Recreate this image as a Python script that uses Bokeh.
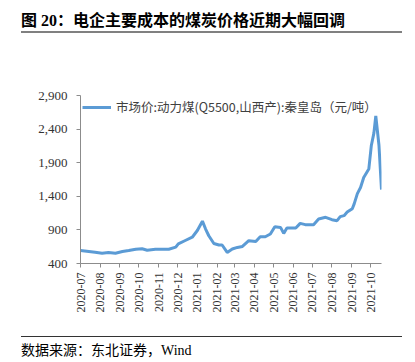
import pandas as pd
from bokeh.plotting import figure
from bokeh.layouts import column
from bokeh.models import (Range1d, MonthsTicker, DatetimeTickFormatter, NumeralTickFormatter,
                          FixedTicker, Legend, LegendItem, Div)
from bokeh.embed import file_html
from bokeh.resources import INLINE

title_text = "图 20：电企主要成本的煤炭价格近期大幅回调"
source_text = "数据来源：东北证券，Wind"
series_name = "市场价:动力煤(Q5500,山西产):秦皇岛（元/吨）"

dates = [
    "2020-07-01", "2020-07-24", "2020-08-04", "2020-08-14", "2020-08-25", "2020-09-05",
    "2020-09-15", "2020-09-26", "2020-10-06", "2020-10-14", "2020-10-27", "2020-11-17",
    "2020-11-28", "2020-12-02", "2020-12-13", "2020-12-24", "2021-01-01", "2021-01-09",
    "2021-01-14", "2021-01-19", "2021-01-27", "2021-02-04", "2021-02-09", "2021-02-17",
    "2021-02-25", "2021-03-05", "2021-03-13", "2021-03-23", "2021-04-03", "2021-04-10",
    "2021-04-18", "2021-04-26", "2021-05-03", "2021-05-12", "2021-05-17", "2021-05-22",
    "2021-06-05", "2021-06-12", "2021-06-20", "2021-07-03", "2021-07-11", "2021-07-22",
    "2021-08-01", "2021-08-09", "2021-08-14", "2021-08-20", "2021-08-25", "2021-09-02",
    "2021-09-05", "2021-09-10", "2021-09-15", "2021-09-20", "2021-09-28", "2021-10-02",
    "2021-10-06", "2021-10-09", "2021-10-14", "2021-10-18",
]
prices = [
    593, 568, 553, 563, 553, 578,
    593, 613, 619, 598, 613, 613,
    643, 693, 742, 791, 891, 1030,
    913, 813, 698, 675, 675, 565,
    615, 639, 654, 739, 728, 798,
    798, 839, 948, 937, 848, 928,
    928, 997, 978, 978, 1063, 1087,
    1052, 1037, 1097, 1112, 1165, 1215,
    1287, 1440, 1530, 1680, 1805, 2157,
    2340, 2597, 2160, 1500,
]
y_ticks = [400, 900, 1400, 1900, 2400, 2900]

x = pd.to_datetime(dates)

p = figure(width=415, height=300, x_axis_type="datetime",
           x_range=Range1d(x[0], x[-1]), y_range=Range1d(y_ticks[0], y_ticks[-1]),
           output_backend="svg", toolbar_location=None,
           min_border_left=80, min_border_right=34, min_border_top=59, min_border_bottom=73)
p.outline_line_color = None
p.xgrid.visible = False
p.ygrid.visible = False
p.background_fill_color = "white"
p.border_fill_color = "white"

r = p.line(x, prices, line_color="#5B9BD5", line_width=3)

axis_color = "#8c8c8c"
serif = "Liberation Serif"
cjk = "Noto Sans CJK SC"

xa = p.xaxis[0]
xa.ticker = MonthsTicker(months=list(range(12)))
xa.formatter = DatetimeTickFormatter(months="%Y-%m", days="%Y-%m", years="%Y-%m")
xa.major_label_orientation = 1.5707963
xa.major_label_text_font = serif
xa.major_label_text_font_size = "12px"
xa.major_label_text_color = "#333333"
xa.major_label_standoff = 5
xa.axis_line_color = axis_color
xa.major_tick_line_color = axis_color
xa.major_tick_in = 0
xa.major_tick_out = 4
xa.minor_tick_line_color = None

ya = p.yaxis[0]
ya.ticker = FixedTicker(ticks=y_ticks)
ya.formatter = NumeralTickFormatter(format="0,0")
ya.major_label_text_font = serif
ya.major_label_text_font_size = "13px"
ya.major_label_text_color = "#333333"
ya.major_label_standoff = 9
ya.axis_line_color = axis_color
ya.major_tick_line_color = axis_color
ya.major_tick_in = 0
ya.major_tick_out = 4
ya.minor_tick_line_color = None

legend = Legend(items=[LegendItem(label=series_name, renderers=[r])],
                location="top_left", padding=0, margin=2, border_line_color=None,
                background_fill_alpha=0, glyph_width=29, glyph_height=12, label_standoff=5,
                label_height=14, label_text_font=cjk, label_text_font_size="12.5px",
                label_text_color="#404040")
p.add_layout(legend)

title_div = Div(
    text=("<div style=\"width:381px;margin-left:21px;height:33px;box-sizing:border-box;"
          "border-bottom:2px solid #808080;padding-top:12px;line-height:18px;"
          "font-family:'Liberation Serif','Noto Sans CJK SC';font-weight:bold;"
          "font-size:16px;color:#000;white-space:nowrap;\">" + title_text + "</div>"),
    width=415, height=36, margin=0)

source_div = Div(
    text=("<div style=\"width:381px;margin-left:21px;box-sizing:border-box;"
          "border-top:1.5px solid #333;padding-top:5px;line-height:18px;"
          "font-family:'Liberation Serif','Noto Sans CJK SC';"
          "font-size:14px;color:#000;white-space:nowrap;\">" + source_text + "</div>"),
    width=415, height=26, margin=0)

layout = column(title_div, p, source_div, spacing=0)

open("out.html", "w").write(file_html(layout, INLINE))
